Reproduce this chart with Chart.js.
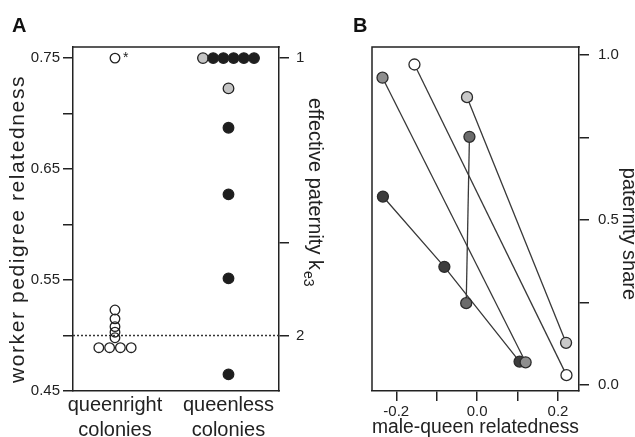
<!DOCTYPE html>
<html>
<head>
<meta charset="utf-8">
<script src="https://cdn.jsdelivr.net/npm/chart.js@4.4.1/dist/chart.umd.min.js"></script>
<style>
  html, body { margin: 0; padding: 0; background: #fff; overflow: hidden; }
  #wrap { position: relative; width: 635px; height: 437px; }
  .panel-label { position: absolute; top: 15px; font: bold 20px/20px "Liberation Sans", Arial, sans-serif; color: #111; }
  #chartA { position: absolute; left: 0; top: 0; }
  #chartB { position: absolute; left: 320px; top: 0; }
</style>
</head>
<body>
<div id="wrap">
  <canvas id="chartA" width="330" height="437"></canvas>
  <canvas id="chartB" width="315" height="437"></canvas>
  <div class="panel-label" style="left:12px">A</div>
  <div class="panel-label" style="left:353px">B</div>
</div>
<script>
// panel A: worker pedigree relatedness per colony
var groupLabels = [['queenright', 'colonies'], ['queenless', 'colonies']];
var queenrightR = [0.75, 0.523, 0.515, 0.508, 0.503, 0.498, 0.489, 0.489, 0.489, 0.489];
var queenlessR = [0.75, 0.75, 0.75, 0.75, 0.75, 0.75, 0.7227, 0.6872, 0.6272, 0.5515, 0.465];
var queenlessGrey = [true, false, false, false, false, false, true, false, false, false, false];
var relTicks = [0.45, 0.50, 0.55, 0.60, 0.65, 0.70, 0.75];
var relTickLabels = ['0.45', '', '0.55', '', '0.65', '', '0.75'];
var paternityTicks = [1, 1.5, 2];
var paternityTickLabels = ['1', '', '2'];
var refRelatedness = 0.5;

// panel B: paternity share of each male against his relatedness to the queen
var maleQueenR = [[-0.155, 0.221], [-0.234, 0.120], [-0.025, 0.220], [-0.019, -0.027], [-0.233, -0.081, 0.105]];
var paternityShare = [[0.971, 0.030], [0.931, 0.069], [0.872, 0.128], [0.752, 0.248], [0.571, 0.358, 0.071]];
var relXTicks = [-0.2, -0.1, 0, 0.1, 0.2];
var relXTickLabels = ['-0.2', '', '0.0', '', '0.2'];
var shareTicks = [0, 0.25, 0.5, 0.75, 1];
var shareTickLabels = ['0.0', '', '0.5', '', '1.0'];

var colonyFill = ['#ffffff', '#8e8e8e', '#c9c9c9', '#6b6b6b', '#3d3d3d'];
var ink = '#222';
var FONT = '"Liberation Sans", Arial, sans-serif';

Chart.defaults.font.family = FONT;
Chart.defaults.color = ink;

// spreads identical values side by side around the category centre
function swarm(values, center, step) {
    var counts = {}, seen = {};
    values.forEach(function(v) { counts[v] = (counts[v] || 0) + 1; });
    return values.map(function(v) {
        var i = seen[v] || 0;
        seen[v] = i + 1;
        return {x: center + (i - (counts[v] - 1) / 2) * step, y: v};
    });
}

function fixedTicks(list) {
    return function(scale) {
        scale.ticks = list.map(function(v) { return {value: v}; });
    };
}

var framePlugin = {
    id: 'frame',
    afterDraw: function(chart, args, opts) {
        var a = chart.chartArea, ctx = chart.ctx;
        ctx.save();
        ctx.strokeStyle = ink;
        ctx.lineWidth = 1.5;
        ctx.beginPath();
        if (opts.top) { ctx.moveTo(a.left - 0.75, a.top); ctx.lineTo(a.right + 0.75, a.top); }
        if (opts.left) { ctx.moveTo(a.left, a.top); ctx.lineTo(a.left, a.bottom); }
        ctx.stroke();
        ctx.restore();
    }
};

var extrasA = {
    id: 'extrasA',
    beforeDatasetsDraw: function(chart) {
        var a = chart.chartArea, ctx = chart.ctx,
            y = chart.scales.y.getPixelForValue(refRelatedness);
        ctx.save();
        ctx.strokeStyle = '#333';
        ctx.lineWidth = 1.5;
        ctx.setLineDash([2, 2]);
        ctx.beginPath();
        ctx.moveTo(a.left, y);
        ctx.lineTo(a.right, y);
        ctx.stroke();
        ctx.restore();
    },
    afterDraw: function(chart) {
        var ctx = chart.ctx,
            px = chart.scales.x.getPixelForValue(1),
            py = chart.scales.y.getPixelForValue(queenrightR[0]);
        ctx.save();
        ctx.fillStyle = ink;
        ctx.font = '14px ' + FONT;
        ctx.fillText('*', px + 8, py + 4);

        // left axis title, set a little wide like the original
        ctx.save();
        ctx.translate(18, 229);
        ctx.rotate(-Math.PI / 2);
        ctx.font = '21px ' + FONT;
        ctx.textAlign = 'center';
        ctx.textBaseline = 'middle';
        ctx.letterSpacing = '1.6px';
        ctx.fillText('worker pedigree relatedness', 0, 0);
        ctx.restore();

        // right axis title with subscript
        ctx.translate(309, 98);
        ctx.rotate(Math.PI / 2);
        ctx.font = '20px ' + FONT;
        ctx.textBaseline = 'alphabetic';
        var main = 'effective paternity k';
        ctx.fillText(main, 0, 0);
        var w = ctx.measureText(main).width;
        ctx.font = '14px ' + FONT;
        ctx.fillText('e3', w + 1, 5);
        ctx.restore();
    }
};

// right title of panel B sits a bit below the middle of the axis
var extrasB = {
    id: 'extrasB',
    afterDraw: function(chart) {
        var ctx = chart.ctx;
        ctx.save();
        ctx.fillStyle = ink;
        ctx.translate(309, 234);
        ctx.rotate(Math.PI / 2);
        ctx.font = '20px ' + FONT;
        ctx.textAlign = 'center';
        ctx.textBaseline = 'middle';
        ctx.fillText('paternity share', 0, 0);
        ctx.restore();
    }
};

new Chart(document.getElementById('chartA'), {
    type: 'scatter',
    data: {
        datasets: [{
            data: swarm(queenrightR, 1, 0.095),
            pointRadius: 4.8,
            pointBorderWidth: 1.3,
            pointBorderColor: ink,
            pointBackgroundColor: 'rgba(255,255,255,0)'
        }, {
            data: swarm(queenlessR, 2, 0.09),
            pointRadius: 5.3,
            pointBorderWidth: 1.3,
            pointBorderColor: ink,
            pointBackgroundColor: queenlessGrey.map(function(g) { return g ? '#c4c4c4' : '#1e1e1e'; })
        }]
    },
    options: {
        responsive: false,
        animation: false,
        events: [],
        layout: {padding: {top: 47}},
        plugins: {legend: {display: false}, tooltip: {enabled: false}, frame: {top: true}},
        scales: {
            x: {
                type: 'linear', min: 0.63, max: 2.445,
                afterBuildTicks: fixedTicks([1, 2]),
                afterFit: function(s) { s.height = 46; },
                grid: {display: false},
                border: {display: true, color: ink, width: 1.5},
                ticks: {
                    autoSkip: false, maxRotation: 0, padding: -6,
                    font: {size: 20, lineHeight: 1.25},
                    callback: function(v, i) { return groupLabels[i]; }
                }
            },
            y: {
                position: 'left', min: 0.45, max: 0.76,
                afterBuildTicks: fixedTicks(relTicks),
                afterFit: function(s) { s.width = 73; },
                grid: {drawOnChartArea: false, tickLength: 10, color: ink, lineWidth: 1.5},
                border: {display: true, color: ink, width: 1.5},
                ticks: {autoSkip: false, padding: 3, font: {size: 15},
                    callback: function(v, i) { return relTickLabels[i]; }}
            },
            y2: {
                position: 'right', min: 0.45, max: 0.76,
                afterBuildTicks: fixedTicks(paternityTicks.map(function(k) { return 0.25 + 0.5 / k; })),
                afterFit: function(s) { s.width = 51; },
                grid: {drawOnChartArea: false, tickLength: 10, color: ink, lineWidth: 1.5},
                border: {display: true, color: ink, width: 1.5},
                ticks: {autoSkip: false, padding: 7, font: {size: 15},
                    callback: function(v, i) { return paternityTickLabels[i]; }}
            }
        }
    },
    plugins: [framePlugin, extrasA]
});

new Chart(document.getElementById('chartB'), {
    type: 'scatter',
    data: {
        datasets: maleQueenR.map(function(xs, c) {
            return {
                data: xs.map(function(x, i) { return {x: x, y: paternityShare[c][i]}; }),
                showLine: true,
                borderColor: '#383838',
                borderWidth: 1.3,
                pointRadius: 5.5,
                pointBorderWidth: 1.3,
                pointBorderColor: '#2b2b2b',
                pointBackgroundColor: colonyFill[c]
            };
        })
    },
    options: {
        responsive: false,
        animation: false,
        events: [],
        layout: {padding: {top: 47, left: 52}},
        plugins: {legend: {display: false}, tooltip: {enabled: false}, frame: {top: true, left: true}},
        scales: {
            x: {
                type: 'linear', min: -0.26, max: 0.252,
                afterBuildTicks: fixedTicks(relXTicks),
                afterFit: function(s) { s.height = 46; },
                grid: {drawOnChartArea: false, tickLength: 10, color: ink, lineWidth: 1.5},
                border: {display: true, color: ink, width: 1.5},
                ticks: {autoSkip: false, maxRotation: 0, padding: 2, font: {size: 15},
                    callback: function(v, i) { return relXTickLabels[i]; }},
                title: {display: true, text: 'male-queen relatedness',
                    font: {size: 20, lineHeight: 1}, padding: {top: 0, bottom: 0}}
            },
            y: {
                position: 'right', min: -0.018, max: 1.024,
                afterBuildTicks: fixedTicks(shareTicks),
                afterFit: function(s) { s.width = 56; },
                grid: {drawOnChartArea: false, tickLength: 10, color: ink, lineWidth: 1.5},
                border: {display: true, color: ink, width: 1.5},
                ticks: {autoSkip: false, padding: 9, font: {size: 15},
                    callback: function(v, i) { return shareTickLabels[i]; }}
            }
        }
    },
    plugins: [framePlugin, extrasB]
});
</script>
</body>
</html>
